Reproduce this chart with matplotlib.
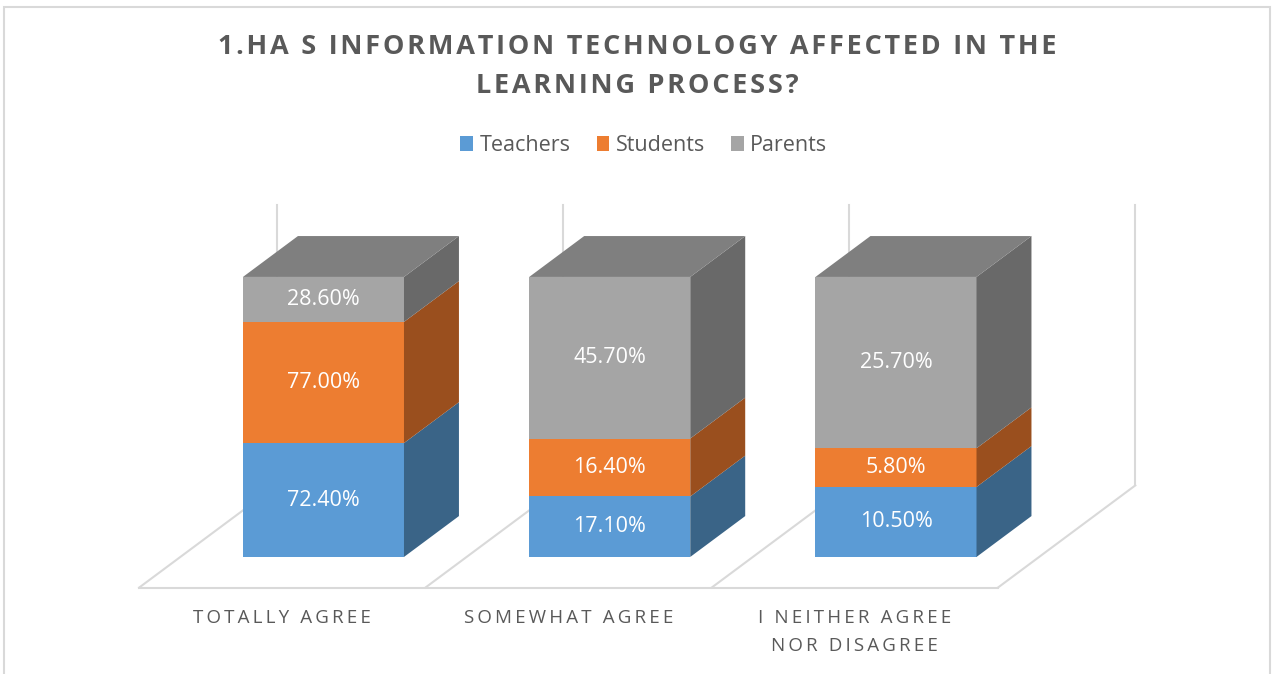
#3d-look stacked column chart (100% stacked), Excel style
import numpy as np
import matplotlib
matplotlib.use("Agg")
import matplotlib.pyplot as plt
from matplotlib.patches import Rectangle, Patch

categories = ["TOTALLY AGREE", "SOMEWHAT AGREE", "I NEITHER AGREE\nNOR DISAGREE"]
series = ["Teachers", "Students", "Parents"]
teachers = [72.4, 17.1, 10.5]
students = [77.0, 16.4, 5.8]
parents = [28.6, 45.7, 25.7]

front_colors = ["#5B9BD5", "#ED7D31", "#A5A5A5"]
side_colors = ["#3A6487", "#9A4F1E", "#696969"]
top_color = "#7F7F7F"
grid_color = "#D9D9D9"
text_color = "#595959"

FONT = ["Open Sans", "DejaVu Sans"]

# projection of one "bar depth" into data units
DX, DY = 0.192, 14.6
BAR_W = 0.5625
FLOOR_FRONT, FLOOR_BACK = -0.75, 1.75


def spaced(s, sep="\u2009"):
    """Fake letter spacing by putting thin spaces between characters."""
    return "\n".join(sep.join(line) for line in s.split("\n"))


fig = plt.figure(figsize=(12.75, 6.74), dpi=100)
ax = fig.add_axes([0, 0, 1, 1])
ax.set_xlim(-1.13, 3.324)
ax.set_ylim(-41.8, 198.9)
ax.axis("off")

# chart border
fig.patches.append(Rectangle((4 / 1275, -0.02), 1266 / 1275, 1.02 - 7 / 674,
                             transform=fig.transFigure, fill=False,
                             edgecolor=grid_color, linewidth=1.5))

n = len(categories)
x = np.arange(n)
data = np.array([teachers, students, parents])
pct = data / data.sum(axis=0) * 100
bottoms = np.vstack([np.zeros(n), np.cumsum(pct, axis=0)[:-1]])

# back wall lines
for b in np.arange(n + 1) - 0.5:
    bx = b + FLOOR_BACK * DX
    ax.plot([bx, bx], [FLOOR_BACK * DY, 100 + FLOOR_BACK * DY],
            color=grid_color, lw=1.5, zorder=1)

# floor
fx0 = -0.5 + FLOOR_FRONT * DX
fx1 = n - 0.5 + FLOOR_FRONT * DX
ax.plot([fx0, fx1], [FLOOR_FRONT * DY] * 2, color=grid_color, lw=1.5, zorder=1)
for b in np.arange(n + 1) - 0.5:
    ax.plot([b + FLOOR_FRONT * DX, b + FLOOR_BACK * DX],
            [FLOOR_FRONT * DY, FLOOR_BACK * DY], color=grid_color, lw=1.5, zorder=1)

# bars
for i in range(n):
    xl, xr = x[i] - BAR_W / 2, x[i] + BAR_W / 2
    for k in range(len(series)):
        y0 = bottoms[k, i]
        y1 = y0 + pct[k, i]
        ax.bar(x[i], pct[k, i], width=BAR_W, bottom=y0, color=front_colors[k],
               linewidth=0, zorder=3)
        ax.fill([xr, xr + DX, xr + DX, xr], [y0, y0 + DY, y1 + DY, y1],
                color=side_colors[k], linewidth=0, zorder=3)
        ax.text(x[i], (y0 + y1) / 2, f"{data[k, i]:.2f}%", color="white",
                ha="center", va="center", fontsize=15.5, family=FONT, zorder=4)
    ax.fill([xl, xl + DX, xr + DX, xr], [100, 100 + DY, 100 + DY, 100],
            color=top_color, linewidth=0, zorder=3)

# category labels
for i, c in enumerate(categories):
    ax.text(x[i] + FLOOR_FRONT * DX, -18.6, spaced(c), ha="center", va="top",
            fontsize=13.5, color=text_color, family=FONT, linespacing=1.7)

# title
fig.text(0.5, 0.901, spaced("1.HA S INFORMATION TECHNOLOGY AFFECTED IN THE\nLEARNING PROCESS?", "\u200a"),
         ha="center", va="center", fontsize=19.5, fontweight="bold",
         color=text_color, family=FONT, linespacing=1.65)

# legend
handles = [Patch(facecolor=c, edgecolor="none") for c in front_colors]
fig.legend(handles, series, loc="center", bbox_to_anchor=(0.505, 0.784), ncol=3,
           frameon=False, prop={"family": FONT, "size": 15.5},
           labelcolor=text_color, handlelength=0.6, handleheight=0.7,
           handletextpad=0.3, columnspacing=1.2)

fig.savefig("out.png", dpi=100)
